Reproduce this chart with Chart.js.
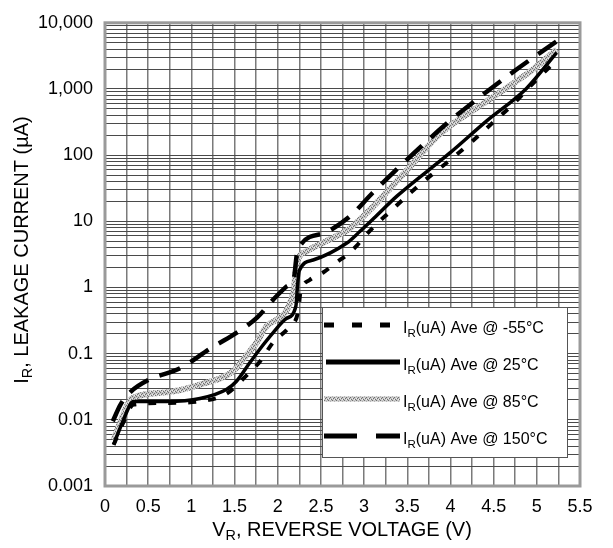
<!DOCTYPE html>
<html>
<head>
<meta charset="utf-8">
<script src="https://cdn.jsdelivr.net/npm/chart.js@4.4.0/dist/chart.umd.min.js"></script>
<style>
  html, body { margin: 0; padding: 0; background: #fff; }
  #chart { display: block; }
</style>
</head>
<body>
<canvas id="chart" width="613" height="548"></canvas>
<script>
// axis ticks
const xTickLabels = ['0', '0.5', '1', '1.5', '2', '2.5', '3', '3.5', '4', '4.5', '5', '5.5'];
const yTickLabels = ['0.001', '0.01', '0.1', '1', '10', '100', '1,000', '10,000'];

// series: reverse voltage (V) and leakage current (uA)
const vMinus55 = [0.10, 0.21, 0.33, 0.71, 1.10, 1.41, 1.64, 1.79, 1.95, 2.14, 2.24, 2.26, 2.37, 2.53, 2.68, 2.80, 2.91, 2.99, 3.14, 3.30, 3.60, 4.03, 4.26, 4.49, 4.72, 4.99, 5.20];
const iMinus55 = [0.0042, 0.009, 0.017, 0.018, 0.019, 0.025, 0.047, 0.075, 0.15, 0.26, 0.46, 0.8, 1.3, 1.7, 2.4, 3.1, 4.2, 5.6, 9.0, 14, 32, 92, 165, 310, 580, 1350, 2500];

const v25 = [0.10, 0.21, 0.33, 0.71, 1.10, 1.41, 1.52, 1.68, 1.83, 1.95, 2.10, 2.21, 2.23, 2.25, 2.41, 2.80, 2.95, 3.11, 3.38, 3.99, 4.42, 4.88, 5.23];
const i25 = [0.0042, 0.0097, 0.019, 0.019, 0.021, 0.029, 0.038, 0.074, 0.135, 0.21, 0.34, 0.52, 1.1, 1.8, 2.6, 4.7, 7.0, 11, 24, 107, 330, 1020, 3550];

const v85 = [0.10, 0.20, 0.31, 0.71, 1.10, 1.48, 1.64, 1.76, 1.87, 2.18, 2.22, 2.33, 2.64, 2.84, 3.11, 3.50, 3.88, 4.42, 4.96, 5.23];
const i85 = [0.005, 0.011, 0.021, 0.026, 0.034, 0.054, 0.095, 0.15, 0.26, 0.82, 2.3, 3.5, 5.6, 7.9, 17, 60, 210, 650, 2000, 3950];

const v150 = [0.09, 0.18, 0.29, 0.52, 0.87, 1.22, 1.48, 1.76, 1.95, 2.10, 2.19, 2.22, 2.27, 2.57, 2.84, 3.10, 3.57, 3.95, 4.42, 4.80, 5.23];
const i150 = [0.0095, 0.017, 0.026, 0.041, 0.06, 0.12, 0.19, 0.35, 0.66, 1.03, 1.45, 3.1, 4.5, 6.9, 12, 27, 105, 295, 910, 2130, 5250];

const seriesNames = ['-55°C', '25°C', '85°C', '150°C'];

function points(vs, is) {
    return vs.map((v, k) => ({ x: v, y: is[k] }));
}

// speckled grey fill for the 85°C trace
function makeSpeckle() {
    const c = document.createElement('canvas');
    c.width = 4; c.height = 4;
    const g = c.getContext('2d');
    g.fillStyle = '#c4c4c4';
    g.fillRect(0, 0, 4, 4);
    g.fillStyle = '#707070';
    [[0, 0], [2, 1], [1, 2], [3, 3]].forEach(p => g.fillRect(p[0], p[1], 1, 1));
    g.fillStyle = '#ececec';
    [[2, 3], [0, 2]].forEach(p => g.fillRect(p[0], p[1], 1, 1));
    return g.createPattern(c, 'repeat');
}
const speckle = makeSpeckle();

const lineStyles = [
    { color: '#000', width: 4, dash: [8, 12], legendDash: [10, 18] },
    { color: '#000', width: 3.5, dash: [], legendDash: [] },
    { color: speckle, width: 6, dash: [], legendDash: [] },
    { color: '#000', width: 4.5, dash: [22, 12], legendDash: [33, 19] }
];

const FONT = '"Liberation Sans", Arial, sans-serif';

// text with a subscript piece, e.g. I + R
function drawParts(ctx, parts, x, y, size, align) {
    let total = 0;
    parts.forEach(p => {
        ctx.font = (p.sub ? size * 0.72 : size) + 'px ' + FONT;
        p.w = ctx.measureText(p.t).width;
        total += p.w;
    });
    let cx = align === 'center' ? x - total / 2 : x;
    ctx.textAlign = 'left';
    ctx.textBaseline = 'middle';
    parts.forEach(p => {
        ctx.font = (p.sub ? size * 0.72 : size) + 'px ' + FONT;
        ctx.fillText(p.t, cx, p.sub ? y + size * 0.3 : y);
        cx += p.w;
    });
}

const decorPlugin = {
    id: 'decor',
    afterDraw(chart) {
        const ctx = chart.ctx;
        const a = chart.chartArea;
        ctx.save();

        // plot frame
        ctx.strokeStyle = '#9a9a9a';
        ctx.lineWidth = 3;
        ctx.strokeRect(a.left, a.top, a.right - a.left, a.bottom - a.top);

        // legend box
        const bx = 322, by = 307, bw = 245, bh = 150;
        ctx.fillStyle = '#fff';
        ctx.fillRect(bx, by, bw, bh);
        ctx.strokeStyle = '#555';
        ctx.lineWidth = 1;
        ctx.strokeRect(bx + 0.5, by + 0.5, bw, bh);

        const lineY = [325, 362, 399, 436];
        const textY = [329, 366, 403, 440];
        lineStyles.forEach((s, k) => {
            ctx.beginPath();
            ctx.setLineDash(s.legendDash);
            ctx.lineWidth = 5;
            ctx.strokeStyle = s.color;
            ctx.moveTo(k === 1 ? 326 : 324, lineY[k]);
            ctx.lineTo(400, lineY[k]);
            ctx.stroke();
            ctx.setLineDash([]);
            ctx.fillStyle = '#000';
            drawParts(ctx, [{ t: 'I' }, { t: 'R', sub: true }, { t: '(uA) Ave @ ' + seriesNames[k] }], 403, textY[k], 16, 'left');
        });

        // axis titles
        ctx.fillStyle = '#000';
        drawParts(ctx, [{ t: 'V' }, { t: 'R', sub: true }, { t: ', REVERSE VOLTAGE (V)' }], 342, 530, 20, 'center');
        ctx.translate(22, 250);
        ctx.rotate(-Math.PI / 2);
        drawParts(ctx, [{ t: 'I' }, { t: 'R', sub: true }, { t: ', LEAKAGE CURRENT (µA)' }], 0, 0, 20, 'center');
        ctx.restore();
    }
};

const datasets = [
    [vMinus55, iMinus55],
    [v25, i25],
    [v85, i85],
    [v150, i150]
].map((d, k) => ({
    label: 'IR(uA) Ave @ ' + seriesNames[k],
    data: points(d[0], d[1]),
    borderColor: lineStyles[k].color,
    borderWidth: lineStyles[k].width,
    borderDash: lineStyles[k].dash,
    borderCapStyle: 'butt',
    pointRadius: 0,
    fill: false,
    cubicInterpolationMode: 'monotone',
    order: k === 2 ? 5 : k
}));

new Chart(document.getElementById('chart'), {
    type: 'line',
    data: { datasets: datasets },
    options: {
        responsive: false,
        animation: false,
        layout: { padding: { top: 12, right: 33, left: 0, bottom: 0 } },
        plugins: {
            legend: { display: false },
            tooltip: { enabled: false }
        },
        scales: {
            x: {
                type: 'linear',
                min: 0,
                max: 5.5,
                afterBuildTicks(scale) {
                    const t = [];
                    for (let k = 0; k <= 22; k++) t.push({ value: k * 0.25 });
                    scale.ticks = t;
                },
                afterFit(scale) { scale.height = 62; },
                border: { display: false },
                grid: { color: '#7a7a7a', lineWidth: 1.5, drawTicks: false },
                ticks: {
                    autoSkip: false,
                    maxRotation: 0,
                    padding: 10,
                    color: '#000',
                    font: { family: FONT, size: 18 },
                    callback: (v, k) => (k % 2 === 0 ? xTickLabels[k / 2] : '')
                }
            },
            y: {
                type: 'logarithmic',
                min: 0.001,
                max: 10000,
                afterBuildTicks(scale) {
                    const t = [];
                    for (let e = -3; e <= 3; e++) {
                        for (let m = 1; m <= 9; m++) t.push({ value: m * Math.pow(10, e), major: m === 1 });
                    }
                    t.push({ value: 10000, major: true });
                    scale.ticks = t;
                },
                afterFit(scale) { scale.width = 105; },
                border: { display: false },
                grid: { color: '#4a4a4a', lineWidth: 1, drawTicks: false },
                ticks: {
                    autoSkip: false,
                    padding: 12,
                    color: '#000',
                    font: { family: FONT, size: 18 },
                    callback: (v, k) => (k % 9 === 0 ? yTickLabels[k / 9] : '')
                }
            }
        }
    },
    plugins: [decorPlugin]
});
</script>
</body>
</html>
